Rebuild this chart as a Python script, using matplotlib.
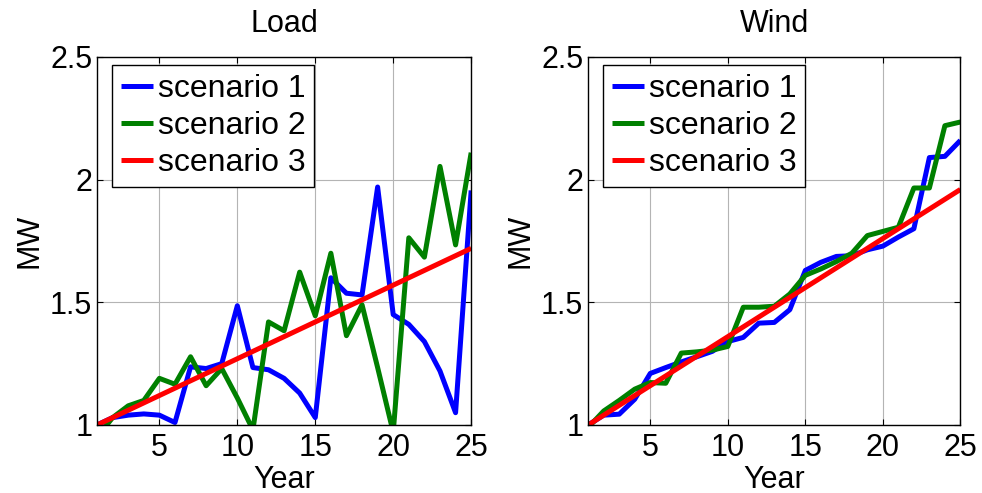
import matplotlib
matplotlib.use("Agg")
import matplotlib.pyplot as plt
import numpy as np

plt.rcParams['font.family'] = ['Liberation Sans', 'DejaVu Sans']

years = list(range(1, 26))

load_s1 = [1.00, 1.03, 1.04, 1.045, 1.04, 1.01, 1.237, 1.23, 1.25, 1.486,
           1.234, 1.225, 1.19, 1.13, 1.03, 1.60, 1.537, 1.53, 1.97, 1.45,
           1.41, 1.34, 1.22, 1.05, 1.956]
load_s2 = [0.95, 1.03, 1.078, 1.10, 1.19, 1.166, 1.278, 1.16, 1.23, 1.11,
           0.98, 1.42, 1.384, 1.623, 1.445, 1.70, 1.364, 1.49, 1.234, 0.97,
           1.763, 1.684, 2.054, 1.734, 2.11]
load_s3 = [1.0 + 0.03 * (y - 1) for y in years]

wind_s1 = [1.00, 1.04, 1.044, 1.105, 1.21, 1.234, 1.257, 1.278, 1.30, 1.34,
           1.357, 1.415, 1.418, 1.47, 1.63, 1.663, 1.687, 1.69, 1.714, 1.729,
           1.766, 1.80, 2.09, 2.095, 2.16]
wind_s2 = [0.99, 1.057, 1.10, 1.146, 1.173, 1.17, 1.293, 1.298, 1.305, 1.32,
           1.48, 1.48, 1.484, 1.534, 1.61, 1.636, 1.666, 1.70, 1.772, 1.789,
           1.806, 1.966, 1.966, 2.22, 2.235]
wind_s3 = [1.0 + 0.04 * (y - 1) for y in years]

labels = ['scenario 1', 'scenario 2', 'scenario 3']
colors = ['#0000ff', '#008000', '#ff0000']
titles = ['Load', 'Wind']
xticks = [5, 10, 15, 20, 25]
yticks = [1, 1.5, 2, 2.5]
yticklabels = ['1', '1.5', '2', '2.5']

fig = plt.figure(figsize=(9.82, 4.93), dpi=100)
ax1 = fig.add_axes([0.0988, 0.138, 0.381, 0.7464])
ax2 = fig.add_axes([0.599, 0.138, 0.379, 0.7464])

for ax, series, title in [(ax1, [load_s1, load_s2, load_s3], titles[0]),
                          (ax2, [wind_s1, wind_s2, wind_s3], titles[1])]:
    for s, c, l in zip(series, colors, labels):
        ax.plot(years, s, color=c, lw=3.6, label=l, solid_capstyle='butt')
    ax.set_xlim(1, 25)
    ax.set_ylim(1, 2.5)
    ax.set_xticks(xticks)
    ax.set_yticks(yticks)
    ax.set_yticklabels(yticklabels)
    ax.tick_params(direction='in', top=True, right=True, labelsize=22,
                   length=4, width=0.8)
    ax.tick_params(axis='x', pad=6)
    ax.tick_params(axis='y', pad=3.5)
    ax.grid(True, color='#b4b4b4', lw=0.8)
    ax.set_axisbelow(True)
    for sp in ax.spines.values():
        sp.set_linewidth(1.0)
    ax.set_title(title, fontsize=22, pad=18)
    ax.set_xlabel('Year', fontsize=22, labelpad=1)
    ax.set_ylabel('MW', fontsize=22, labelpad=4)
    leg = ax.legend(loc='upper left', bbox_to_anchor=(0.04, 0.978),
                    borderaxespad=0, fontsize=23, handlelength=1.0,
                    handletextpad=0.15, borderpad=0.28, labelspacing=0.22,
                    fancybox=False, framealpha=1, edgecolor='black')
    leg.get_frame().set_linewidth(1.0)

fig.savefig('out.png', dpi=100)
